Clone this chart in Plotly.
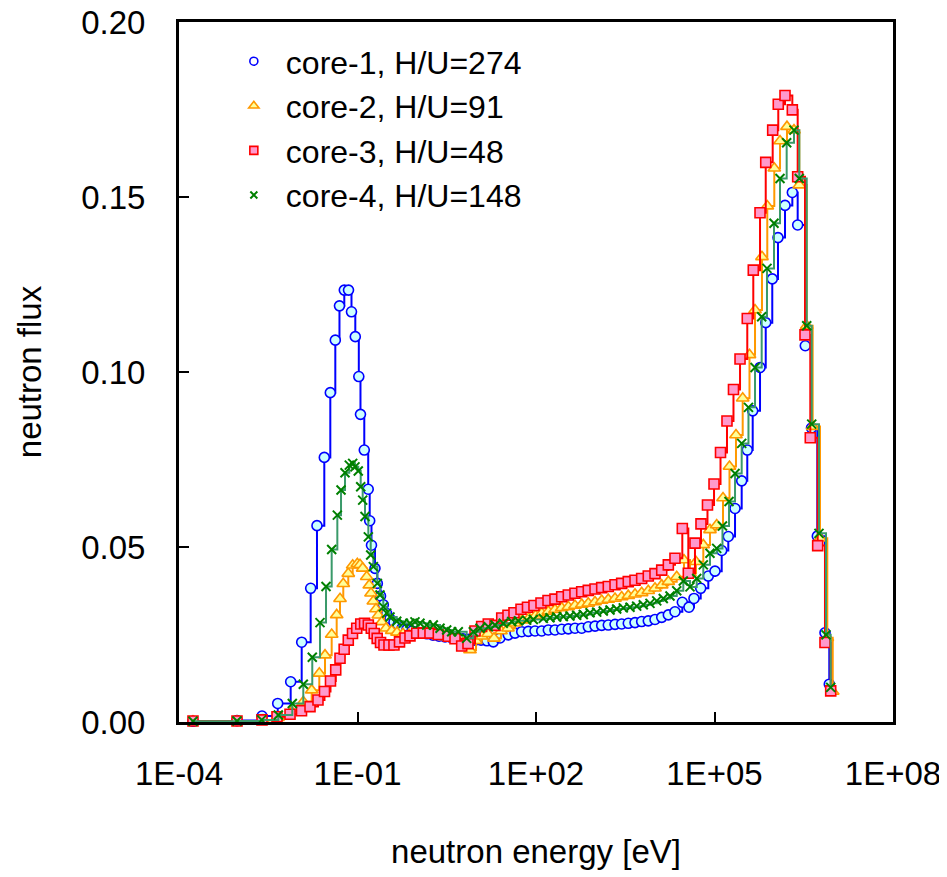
import plotly.graph_objects as go

# ---- data (energy given as log10 of eV, flux) ----
core1_log10_eV = [-3.765, -3.025, -2.605, -2.341, -2.123, -1.938, -1.787, -1.681, -1.558, -1.457,
                  -1.373, -1.303, -1.222, -1.151, -1.101, -1.037, -0.978, -0.950, -0.886, -0.820,
                  -0.795, -0.765, -0.706, -0.667, -0.613, -0.566, -0.509, -0.454, -0.387, -0.319,
                  -0.244, -0.168, -0.084, 0.000, 0.084, 0.168, 0.269, 0.370, 0.471, 0.571,
                  0.672, 0.773, 0.874, 0.975, 1.076, 1.176, 1.282, 1.395, 1.534, 1.647,
                  1.760, 1.871, 1.983, 2.096, 2.207, 2.319, 2.432, 2.543, 2.655, 2.768,
                  2.879, 2.992, 3.104, 3.215, 3.328, 3.440, 3.551, 3.664, 3.776, 3.887,
                  4.000, 4.113, 4.224, 4.336, 4.459, 4.571, 4.655, 4.768, 4.896, 5.008,
                  5.121, 5.232, 5.345, 5.457, 5.551, 5.642, 5.765, 5.861, 5.971, 6.067,
                  6.185, 6.308, 6.398, 6.526, 6.630, 6.728, 6.857, 6.929]
core1_flux = [0.0002, 0.0004, 0.0017, 0.0053, 0.0115, 0.0228, 0.0382, 0.0561, 0.0756, 0.0941,
              0.1091, 0.1189, 0.1234, 0.1234, 0.1172, 0.1101, 0.0987, 0.0879, 0.0777, 0.0665,
              0.0575, 0.0505, 0.0439, 0.0396, 0.0360, 0.0335, 0.0310, 0.0295, 0.0285, 0.0277,
              0.0270, 0.0265, 0.0260, 0.0256, 0.0254, 0.0252, 0.0248, 0.0245, 0.0243, 0.0242,
              0.0240, 0.0238, 0.0236, 0.0234, 0.0234, 0.0232, 0.0229, 0.0240, 0.0249, 0.0254,
              0.0258, 0.0259, 0.0260, 0.0260, 0.0263, 0.0263, 0.0265, 0.0266, 0.0268, 0.0268,
              0.0272, 0.0274, 0.0276, 0.0277, 0.0279, 0.0280, 0.0282, 0.0284, 0.0287, 0.0289,
              0.0293, 0.0299, 0.0306, 0.0315, 0.0342, 0.0328, 0.0353, 0.0382, 0.0417, 0.0431,
              0.0490, 0.0530, 0.0610, 0.0689, 0.0777, 0.0889, 0.1013, 0.1141, 0.1266, 0.1384,
              0.1476, 0.1513, 0.1420, 0.1075, 0.0840, 0.0531, 0.0255, 0.0108]

core2_log10_eV = [-3.765, -3.025, -2.588, -2.336, -2.106, -1.911, -1.770, -1.642, -1.546, -1.434,
                  -1.350, -1.294, -1.239, -1.155, -1.081, -1.003, -0.958, -0.913, -0.845, -0.802,
                  -0.773, -0.734, -0.689, -0.650, -0.593, -0.521, -0.425, -0.336, -0.235, -0.134,
                  -0.034, 0.067, 0.168, 0.269, 0.370, 0.471, 0.571, 0.672, 0.773, 0.891,
                  0.992, 1.092, 1.193, 1.294, 1.412, 1.529, 1.647, 1.765, 1.882, 1.992,
                  2.096, 2.207, 2.319, 2.432, 2.543, 2.655, 2.768, 2.879, 2.992, 3.104,
                  3.215, 3.328, 3.440, 3.551, 3.664, 3.776, 3.887, 4.000, 4.113, 4.224,
                  4.365, 4.487, 4.588, 4.689, 4.812, 4.924, 5.037, 5.143, 5.252, 5.361,
                  5.474, 5.588, 5.681, 5.798, 5.887, 6.005, 6.101, 6.218, 6.336, 6.425,
                  6.550, 6.650, 6.773, 6.896, 6.987]
core2_flux = [0.0002, 0.0002, 0.0005, 0.0012, 0.0030, 0.0058, 0.0091, 0.0139, 0.0191, 0.0250,
              0.0306, 0.0352, 0.0395, 0.0424, 0.0448, 0.0452, 0.0449, 0.0439, 0.0415, 0.0391,
              0.0368, 0.0345, 0.0323, 0.0305, 0.0286, 0.0268, 0.0261, 0.0256, 0.0252, 0.0250,
              0.0250, 0.0249, 0.0248, 0.0247, 0.0245, 0.0243, 0.0240, 0.0236, 0.0226, 0.0206,
              0.0232, 0.0245, 0.0252, 0.0239, 0.0260, 0.0268, 0.0282, 0.0291, 0.0297, 0.0304,
              0.0311, 0.0316, 0.0321, 0.0326, 0.0329, 0.0333, 0.0336, 0.0339, 0.0343, 0.0347,
              0.0350, 0.0353, 0.0357, 0.0361, 0.0365, 0.0369, 0.0375, 0.0382, 0.0391, 0.0401,
              0.0415, 0.0463, 0.0425, 0.0458, 0.0506, 0.0549, 0.0563, 0.0640, 0.0730, 0.0820,
              0.0925, 0.1049, 0.1177, 0.1329, 0.1474, 0.1582, 0.1660, 0.1701, 0.1691, 0.1534,
              0.1132, 0.0844, 0.0525, 0.0241, 0.0087]

core3_log10_eV = [-3.765, -3.025, -2.605, -2.353, -2.134, -1.941, -1.798, -1.664, -1.555, -1.454,
                  -1.366, -1.294, -1.224, -1.155, -1.084, -1.013, -0.945, -0.881, -0.818, -0.768,
                  -0.719, -0.669, -0.613, -0.555, -0.471, -0.387, -0.294, -0.202, -0.118, -0.005,
                  0.106, 0.218, 0.358, 0.526, 0.639, 0.751, 0.857, 0.975, 1.087, 1.198,
                  1.311, 1.424, 1.529, 1.630, 1.748, 1.857, 1.966, 2.084, 2.202, 2.319,
                  2.432, 2.543, 2.655, 2.768, 2.879, 2.992, 3.104, 3.215, 3.328, 3.440,
                  3.551, 3.664, 3.776, 3.887, 4.000, 4.113, 4.224, 4.336, 4.459, 4.560,
                  4.672, 4.773, 4.882, 4.992, 5.101, 5.210, 5.319, 5.429, 5.551, 5.652,
                  5.765, 5.861, 5.978, 6.072, 6.185, 6.308, 6.398, 6.521, 6.610, 6.734,
                  6.857, 6.953]
core3_flux = [0.0003, 0.0003, 0.0006, 0.0015, 0.0022, 0.0032, 0.0044, 0.0063, 0.0087, 0.0117,
              0.0149, 0.0182, 0.0208, 0.0234, 0.0253, 0.0268, 0.0280, 0.0282, 0.0277, 0.0268,
              0.0253, 0.0239, 0.0227, 0.0220, 0.0220, 0.0220, 0.0229, 0.0240, 0.0246, 0.0254,
              0.0254, 0.0254, 0.0250, 0.0245, 0.0238, 0.0217, 0.0224, 0.0260, 0.0273, 0.0280,
              0.0276, 0.0297, 0.0305, 0.0312, 0.0322, 0.0328, 0.0333, 0.0340, 0.0347, 0.0351,
              0.0358, 0.0363, 0.0368, 0.0372, 0.0376, 0.0380, 0.0384, 0.0387, 0.0392, 0.0396,
              0.0401, 0.0405, 0.0410, 0.0417, 0.0424, 0.0434, 0.0449, 0.0468, 0.0553, 0.0425,
              0.0511, 0.0566, 0.0620, 0.0680, 0.0770, 0.0860, 0.0950, 0.1037, 0.1153, 0.1291,
              0.1455, 0.1599, 0.1691, 0.1765, 0.1790, 0.1749, 0.1558, 0.1106, 0.0812, 0.0504,
              0.0227, 0.0089]

core4_log10_eV = [-3.765, -3.025, -2.610, -2.331, -2.096, -1.911, -1.760, -1.630, -1.529, -1.434,
                  -1.339, -1.277, -1.210, -1.138, -1.081, -1.042, -0.987, -0.946, -0.913, -0.874,
                  -0.818, -0.778, -0.734, -0.667, -0.622, -0.566, -0.509, -0.454, -0.341, -0.230,
                  -0.118, -0.034, 0.050, 0.163, 0.274, 0.387, 0.499, 0.583, 0.694, 0.835,
                  0.946, 1.059, 1.198, 1.311, 1.450, 1.592, 1.703, 1.844, 1.955, 2.123,
                  2.235, 2.348, 2.459, 2.571, 2.684, 2.795, 2.908, 3.020, 3.131, 3.244,
                  3.356, 3.467, 3.580, 3.692, 3.803, 3.916, 4.029, 4.139, 4.252, 4.365,
                  4.476, 4.588, 4.701, 4.812, 4.924, 5.037, 5.134, 5.244, 5.345, 5.457,
                  5.571, 5.681, 5.793, 5.882, 6.000, 6.101, 6.213, 6.336, 6.425, 6.550,
                  6.634, 6.756, 6.874, 6.953]
core4_flux = [0.0002, 0.0003, 0.0006, 0.0020, 0.0053, 0.0108, 0.0185, 0.0284, 0.0387, 0.0493,
              0.0591, 0.0663, 0.0712, 0.0734, 0.0739, 0.0729, 0.0717, 0.0672, 0.0634, 0.0587,
              0.0529, 0.0477, 0.0444, 0.0396, 0.0363, 0.0329, 0.0311, 0.0300, 0.0288, 0.0282,
              0.0282, 0.0286, 0.0282, 0.0277, 0.0277, 0.0268, 0.0263, 0.0258, 0.0258, 0.0239,
              0.0258, 0.0268, 0.0272, 0.0277, 0.0282, 0.0287, 0.0289, 0.0291, 0.0293, 0.0296,
              0.0298, 0.0300, 0.0301, 0.0303, 0.0305, 0.0307, 0.0312, 0.0314, 0.0317, 0.0320,
              0.0323, 0.0326, 0.0328, 0.0331, 0.0335, 0.0339, 0.0346, 0.0353, 0.0360, 0.0375,
              0.0403, 0.0386, 0.0410, 0.0449, 0.0482, 0.0496, 0.0560, 0.0630, 0.0710, 0.0796,
              0.0899, 0.1013, 0.1158, 0.1296, 0.1425, 0.1553, 0.1655, 0.1691, 0.1553, 0.1132,
              0.0851, 0.0539, 0.0249, 0.0099]

series_names = ["core-1, H/U=274", "core-2, H/U=91", "core-3, H/U=48", "core-4, H/U=148"]
x_tick_values = [1e-4, 1e-1, 1e2, 1e5, 1e8]
x_tick_labels = ["1E-04", "1E-01", "1E+02", "1E+05", "1E+08"]
y_tick_values = [0.00, 0.05, 0.10, 0.15, 0.20]

series = [
    (core1_log10_eV, core1_flux, dict(line="#0000FF", symbol="circle", fill="#CCFFFF", edge="#0000FF", size=10)),
    (core2_log10_eV, core2_flux, dict(line="#FF9900", symbol="triangle-up", fill="#FFFF99", edge="#FF9900", size=11)),
    (core3_log10_eV, core3_flux, dict(line="#FF0000", symbol="square", fill="#FF99CC", edge="#FF0000", size=10)),
    (core4_log10_eV, core4_flux, dict(line="#3A9A6A", symbol="x-thin", fill="#008000", edge="#008000", size=9)),
]

FONT = "Liberation Sans, Arial, sans-serif"
fig = go.Figure()

for (loge, flux, st), name in zip(series, series_names):
    energy = [10 ** v for v in loge]
    fig.add_trace(go.Scatter(
        x=energy, y=flux, mode="lines+markers", name=name, showlegend=False,
        line=dict(color=st["line"], width=2, shape="hv"),
        marker=dict(symbol=st["symbol"], size=st["size"], color=st["fill"],
                    line=dict(color=st["edge"], width=2 if st["symbol"] == "x-thin" else 1.6)),
        cliponaxis=False,
    ))

# legend entries (markers only)
for (loge, flux, st), name in zip(series, series_names):
    fig.add_trace(go.Scatter(
        x=[None], y=[None], mode="markers", name=name, showlegend=True,
        marker=dict(symbol=st["symbol"], size=st["size"] - 2,
                    color="white" if st["symbol"] == "circle" else st["fill"],
                    line=dict(color=st["edge"], width=2 if st["symbol"] == "x-thin" else 1.6)),
    ))

fig.update_layout(
    width=939, height=869,
    margin=dict(l=171, r=54, t=14, b=155),
    paper_bgcolor="white", plot_bgcolor="white",
    font=dict(family=FONT, color="black"),
    showlegend=True,
    legend=dict(x=0.060, y=0.983, xanchor="left", yanchor="top",
                bgcolor="rgba(0,0,0,0)", borderwidth=0,
                font=dict(size=32, family=FONT, color="black"),
                itemwidth=54, tracegroupgap=0),
    xaxis=dict(type="log", range=[-4, 8], tickvals=x_tick_values, ticktext=x_tick_labels,
               ticks="inside", ticklen=10, tickwidth=2, tickcolor="black",
               showline=True, linecolor="black", linewidth=3, mirror=True,
               showgrid=False, zeroline=False, automargin=False,
               ticklabelstandoff=20, ticklabeloverflow="allow",
               tickfont=dict(size=33, family=FONT, color="black"),
               title=dict(text="neutron energy [eV]", font=dict(size=33, family=FONT, color="black"),
                          standoff=50)),
    yaxis=dict(range=[0, 0.2], tickvals=y_tick_values, tickformat=".2f",
               ticks="inside", ticklen=10, tickwidth=2, tickcolor="black",
               showline=True, linecolor="black", linewidth=3, mirror=True,
               showgrid=False, zeroline=False, automargin=False,
               ticklabelstandoff=24, ticklabeloverflow="allow",
               tickfont=dict(size=33, family=FONT, color="black"),
               title=dict(text="neutron flux", font=dict(size=33, family=FONT, color="black"),
                          standoff=30)),
)

fig.write_html("out.html")
